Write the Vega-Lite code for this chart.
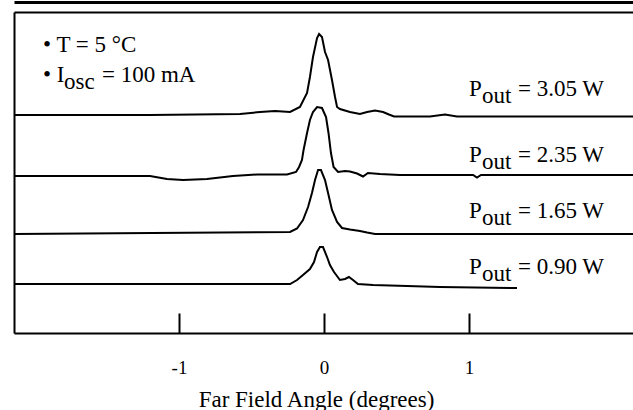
{
  "$schema": "https://vega.github.io/schema/vega-lite/v6.json",
  "width": 619,
  "height": 321,
  "autosize": {"type": "none"},
  "padding": {"left": 14, "top": 12, "right": 0, "bottom": 77},
  "background": "white",
  "config": {"view": {"stroke": null}, "font": "Liberation Serif"},
  "datasets": {
    "traces": [
      {"series": "3.05", "angle": -2.138, "signal": 218},
      {"series": "3.05", "angle": -1.2, "signal": 218},
      {"series": "3.05", "angle": -0.579, "signal": 219},
      {"series": "3.05", "angle": -0.441, "signal": 221},
      {"series": "3.05", "angle": -0.338, "signal": 222},
      {"series": "3.05", "angle": -0.234, "signal": 221},
      {"series": "3.05", "angle": -0.166, "signal": 226},
      {"series": "3.05", "angle": -0.117, "signal": 240},
      {"series": "3.05", "angle": -0.097, "signal": 256},
      {"series": "3.05", "angle": -0.076, "signal": 276},
      {"series": "3.05", "angle": -0.048, "signal": 295},
      {"series": "3.05", "angle": -0.034, "signal": 299},
      {"series": "3.05", "angle": -0.014, "signal": 296},
      {"series": "3.05", "angle": 0.007, "signal": 281},
      {"series": "3.05", "angle": 0.028, "signal": 273},
      {"series": "3.05", "angle": 0.055, "signal": 253},
      {"series": "3.05", "angle": 0.076, "signal": 236},
      {"series": "3.05", "angle": 0.09, "signal": 226},
      {"series": "3.05", "angle": 0.11, "signal": 224},
      {"series": "3.05", "angle": 0.179, "signal": 221},
      {"series": "3.05", "angle": 0.248, "signal": 219},
      {"series": "3.05", "angle": 0.297, "signal": 221},
      {"series": "3.05", "angle": 0.352, "signal": 222.5},
      {"series": "3.05", "angle": 0.407, "signal": 221},
      {"series": "3.05", "angle": 0.448, "signal": 218.5},
      {"series": "3.05", "angle": 0.483, "signal": 216.5},
      {"series": "3.05", "angle": 0.731, "signal": 216.5},
      {"series": "3.05", "angle": 0.834, "signal": 218.5},
      {"series": "3.05", "angle": 0.917, "signal": 216.5},
      {"series": "3.05", "angle": 1.214, "signal": 216.5},
      {"series": "3.05", "angle": 2.131, "signal": 216.5},

      {"series": "2.35", "angle": -2.138, "signal": 157},
      {"series": "2.35", "angle": -1.2, "signal": 157},
      {"series": "2.35", "angle": -1.083, "signal": 154},
      {"series": "2.35", "angle": -0.972, "signal": 153},
      {"series": "2.35", "angle": -0.807, "signal": 154},
      {"series": "2.35", "angle": -0.628, "signal": 157},
      {"series": "2.35", "angle": -0.462, "signal": 158.5},
      {"series": "2.35", "angle": -0.255, "signal": 158.5},
      {"series": "2.35", "angle": -0.193, "signal": 161},
      {"series": "2.35", "angle": -0.172, "signal": 166},
      {"series": "2.35", "angle": -0.152, "signal": 173},
      {"series": "2.35", "angle": -0.141, "signal": 183},
      {"series": "2.35", "angle": -0.117, "signal": 200},
      {"series": "2.35", "angle": -0.097, "signal": 213},
      {"series": "2.35", "angle": -0.076, "signal": 221},
      {"series": "2.35", "angle": -0.048, "signal": 226},
      {"series": "2.35", "angle": -0.014, "signal": 225},
      {"series": "2.35", "angle": 0.014, "signal": 216},
      {"series": "2.35", "angle": 0.031, "signal": 200},
      {"series": "2.35", "angle": 0.048, "signal": 180},
      {"series": "2.35", "angle": 0.066, "signal": 166},
      {"series": "2.35", "angle": 0.097, "signal": 161},
      {"series": "2.35", "angle": 0.145, "signal": 162},
      {"series": "2.35", "angle": 0.179, "signal": 161.5},
      {"series": "2.35", "angle": 0.228, "signal": 159.5},
      {"series": "2.35", "angle": 0.269, "signal": 156.5},
      {"series": "2.35", "angle": 0.303, "signal": 160},
      {"series": "2.35", "angle": 0.386, "signal": 159},
      {"series": "2.35", "angle": 0.455, "signal": 158.5},
      {"series": "2.35", "angle": 0.524, "signal": 158},
      {"series": "2.35", "angle": 1.028, "signal": 158},
      {"series": "2.35", "angle": 1.055, "signal": 155.5},
      {"series": "2.35", "angle": 1.083, "signal": 158},
      {"series": "2.35", "angle": 2.131, "signal": 158},

      {"series": "1.65", "angle": -2.138, "signal": 99},
      {"series": "1.65", "angle": -0.234, "signal": 101},
      {"series": "1.65", "angle": -0.186, "signal": 104.5},
      {"series": "1.65", "angle": -0.145, "signal": 113},
      {"series": "1.65", "angle": -0.11, "signal": 126},
      {"series": "1.65", "angle": -0.083, "signal": 140},
      {"series": "1.65", "angle": -0.062, "signal": 153},
      {"series": "1.65", "angle": -0.041, "signal": 163},
      {"series": "1.65", "angle": -0.021, "signal": 163},
      {"series": "1.65", "angle": 0.007, "signal": 153},
      {"series": "1.65", "angle": 0.028, "signal": 140},
      {"series": "1.65", "angle": 0.055, "signal": 123},
      {"series": "1.65", "angle": 0.09, "signal": 111},
      {"series": "1.65", "angle": 0.124, "signal": 105},
      {"series": "1.65", "angle": 0.179, "signal": 103.5},
      {"series": "1.65", "angle": 0.248, "signal": 102},
      {"series": "1.65", "angle": 0.297, "signal": 100.5},
      {"series": "1.65", "angle": 0.352, "signal": 99},
      {"series": "1.65", "angle": 2.131, "signal": 99},

      {"series": "0.90", "angle": -2.138, "signal": 49},
      {"series": "0.90", "angle": -0.234, "signal": 49},
      {"series": "0.90", "angle": -0.186, "signal": 53},
      {"series": "0.90", "angle": -0.145, "signal": 58},
      {"series": "0.90", "angle": -0.097, "signal": 64},
      {"series": "0.90", "angle": -0.069, "signal": 71},
      {"series": "0.90", "angle": -0.048, "signal": 81},
      {"series": "0.90", "angle": -0.028, "signal": 86},
      {"series": "0.90", "angle": -0.007, "signal": 86},
      {"series": "0.90", "angle": 0.021, "signal": 76},
      {"series": "0.90", "angle": 0.041, "signal": 68},
      {"series": "0.90", "angle": 0.069, "signal": 61},
      {"series": "0.90", "angle": 0.11, "signal": 53},
      {"series": "0.90", "angle": 0.145, "signal": 54},
      {"series": "0.90", "angle": 0.172, "signal": 56},
      {"series": "0.90", "angle": 0.2, "signal": 53},
      {"series": "0.90", "angle": 0.234, "signal": 49},
      {"series": "0.90", "angle": 0.338, "signal": 48},
      {"series": "0.90", "angle": 0.572, "signal": 47},
      {"series": "0.90", "angle": 0.8, "signal": 46},
      {"series": "0.90", "angle": 1.331, "signal": 45}
    ],
    "labels": [
      {"angle": 1.0, "signal": 237, "main": "P", "sub": "out", "rest": "= 3.05 W"},
      {"angle": 1.0, "signal": 171, "main": "P", "sub": "out", "rest": "= 2.35 W"},
      {"angle": 1.0, "signal": 115, "main": "P", "sub": "out", "rest": "= 1.65 W"},
      {"angle": 1.0, "signal": 59, "main": "P", "sub": "out", "rest": "= 0.90 W"}
    ],
    "notes": [
      {"angle": -1.938, "signal": 281, "main": "• T = 5 °C", "sub": "", "rest": ""},
      {"angle": -1.938, "signal": 251, "main": "• I", "sub": "osc", "rest": "= 100 mA"}
    ]
  },
  "resolve": {"axis": {"x": "independent", "y": "independent"}},
  "layer": [
    {
      "data": {"name": "traces"},
      "mark": {"type": "line", "color": "black", "strokeWidth": 2},
      "encoding": {
        "x": {
          "field": "angle", "type": "quantitative",
          "scale": {"domain": [-2.138, 2.131], "nice": false, "zero": false},
          "axis": {
            "orient": "bottom", "values": [-1, 0, 1],
            "tickSize": -20, "tickWidth": 2, "tickColor": "black",
            "domainColor": "black", "domainWidth": 2,
            "labelFont": "Liberation Serif", "labelFontSize": 19, "labelColor": "black",
            "labelBaseline": "alphabetic", "labelPadding": 60,
            "labelExpr": "toString(datum.value)", "labelFlush": false, "labelOverlap": false,
            "grid": false,
            "title": "Far Field Angle (degrees)",
            "titleFont": "Liberation Serif", "titleFontSize": 23, "titleFontWeight": "normal",
            "titleColor": "black", "titleBaseline": "alphabetic", "titleAlign": "center",
            "titleY": 73, "titleX": 302
          }
        },
        "y": {
          "field": "signal", "type": "quantitative",
          "scale": {"domain": [0, 321], "nice": false, "zero": false},
          "axis": {
            "orient": "left", "values": [321],
            "domainColor": "black", "domainWidth": 2,
            "ticks": false, "labels": false, "title": null,
            "grid": true, "gridColor": "black", "gridWidth": 2, "gridOpacity": 1
          }
        },
        "detail": {"field": "series", "type": "nominal"}
      }
    },
    {
      "data": {"name": "labels"},
      "mark": {"type": "text", "align": "left", "baseline": "alphabetic", "fontSize": 23, "font": "Liberation Serif", "color": "black"},
      "encoding": {
        "x": {
          "field": "angle", "type": "quantitative",
          "axis": {"orient": "top", "offset": 10, "domainColor": "black", "domainWidth": 3, "ticks": false, "labels": false, "title": null, "grid": false}
        },
        "y": {"field": "signal", "type": "quantitative", "axis": null},
        "text": {"field": "main"}
      }
    },
    {
      "data": {"name": "labels"},
      "mark": {"type": "text", "align": "left", "baseline": "alphabetic", "fontSize": 23, "font": "Liberation Serif", "color": "black", "dx": 13, "dy": 6.5},
      "encoding": {
        "x": {"field": "angle", "type": "quantitative", "axis": null},
        "y": {"field": "signal", "type": "quantitative", "axis": null},
        "text": {"field": "sub"}
      }
    },
    {
      "data": {"name": "labels"},
      "mark": {"type": "text", "align": "left", "baseline": "alphabetic", "fontSize": 23, "font": "Liberation Serif", "color": "black", "dx": 49},
      "encoding": {
        "x": {"field": "angle", "type": "quantitative", "axis": null},
        "y": {"field": "signal", "type": "quantitative", "axis": null},
        "text": {"field": "rest"}
      }
    },
    {
      "data": {"name": "notes"},
      "mark": {"type": "text", "align": "left", "baseline": "alphabetic", "fontSize": 23, "font": "Liberation Serif", "color": "black"},
      "encoding": {
        "x": {"field": "angle", "type": "quantitative", "axis": null},
        "y": {"field": "signal", "type": "quantitative", "axis": null},
        "text": {"field": "main"}
      }
    },
    {
      "data": {"name": "notes"},
      "mark": {"type": "text", "align": "left", "baseline": "alphabetic", "fontSize": 23, "font": "Liberation Serif", "color": "black", "dx": 21, "dy": 6.5},
      "encoding": {
        "x": {"field": "angle", "type": "quantitative", "axis": null},
        "y": {"field": "signal", "type": "quantitative", "axis": null},
        "text": {"field": "sub"}
      }
    },
    {
      "data": {"name": "notes"},
      "mark": {"type": "text", "align": "left", "baseline": "alphabetic", "fontSize": 23, "font": "Liberation Serif", "color": "black", "dx": 59},
      "encoding": {
        "x": {"field": "angle", "type": "quantitative", "axis": null},
        "y": {"field": "signal", "type": "quantitative", "axis": null},
        "text": {"field": "rest"}
      }
    }
  ]
}
